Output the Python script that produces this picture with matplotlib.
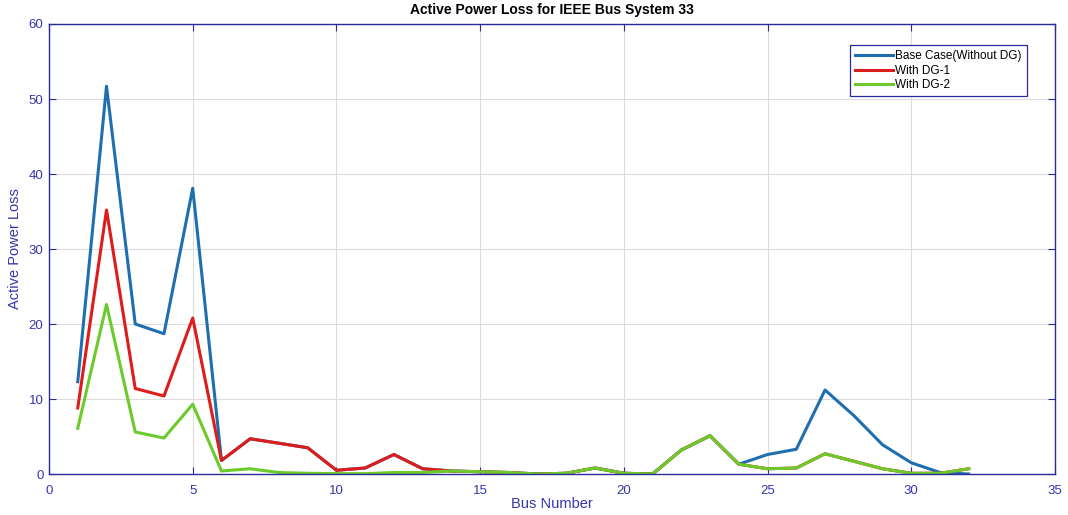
import matplotlib
matplotlib.use("Agg")
import matplotlib.pyplot as plt

bus = list(range(1, 33))

base_case = [12.3, 51.7, 20.0, 18.7, 38.1, 1.8, 4.7, 4.1, 3.5, 0.5,
             0.8, 2.6, 0.7, 0.4, 0.3, 0.2, 0.0, 0.1, 0.8, 0.1,
             0.0, 3.2, 5.1, 1.3, 2.6, 3.3, 11.2, 7.8, 3.9, 1.5,
             0.2, 0.0]
with_dg1 = [8.8, 35.2, 11.4, 10.4, 20.8, 1.8, 4.7, 4.1, 3.5, 0.5,
            0.8, 2.6, 0.7, 0.4, 0.3, 0.2, 0.0, 0.1, 0.8, 0.1,
            0.0, 3.2, 5.1, 1.3, 0.7, 0.8, 2.7, 1.7, 0.7, 0.1,
            0.1, 0.7]
with_dg2 = [6.1, 22.6, 5.6, 4.8, 9.3, 0.4, 0.7, 0.2, 0.1, 0.05,
            0.05, 0.2, 0.2, 0.4, 0.3, 0.2, 0.0, 0.1, 0.8, 0.1,
            0.0, 3.2, 5.1, 1.3, 0.7, 0.8, 2.7, 1.7, 0.7, 0.1,
            0.1, 0.7]

labels = ["Base Case(Without DG)", "With DG-1", "With DG-2"]

plt.rcParams['font.family'] = ['Liberation Sans', 'DejaVu Sans']
axis_col = "#2a2a9a"
text_col = "#3535b0"

fig = plt.figure(figsize=(10.68, 5.15), dpi=100)
ax = fig.add_axes([0.0459, 0.0796, 0.9419, 0.8738])

ax.plot(bus, base_case, color="#1f6fb0", linewidth=2.2, label=labels[0])
ax.plot(bus, with_dg1, color="#dd1c1c", linewidth=2.2, label=labels[1])
ax.plot(bus, with_dg2, color="#6ccb2a", linewidth=2.2, label=labels[2])

ax.set_xlim(0, 35)
ax.set_ylim(0, 60)
ax.set_xticks(range(0, 36, 5))
ax.set_yticks(range(0, 61, 10))
ax.grid(True, color="#dcdcdc", linewidth=0.8)
ax.set_axisbelow(True)

for sp in ax.spines.values():
    sp.set_color(axis_col)
    sp.set_linewidth(1.0)
ax.tick_params(direction="in", color=axis_col, labelcolor=text_col,
               labelsize=9.5, top=True, right=True, length=5)
ax.tick_params(axis="x", pad=8)
ax.tick_params(axis="y", pad=4)

ax.set_xlabel("Bus Number", color=text_col, fontsize=10.5, labelpad=0)
ax.set_ylabel("Active Power Loss", color=text_col, fontsize=10.5, labelpad=5)
ax.set_title("Active Power Loss for IEEE Bus System 33", fontsize=10,
             fontweight="bold", pad=7)

leg = ax.legend(loc="upper right", bbox_to_anchor=(0.972, 0.953),
                borderaxespad=0, fontsize=8.5, fancybox=False, framealpha=1,
                handlelength=3.2, borderpad=0.45, labelspacing=0.2,
                handletextpad=0.2)
leg.get_frame().set_edgecolor(axis_col)
leg.get_frame().set_linewidth(0.9)

fig.savefig("out.png", dpi=100)
